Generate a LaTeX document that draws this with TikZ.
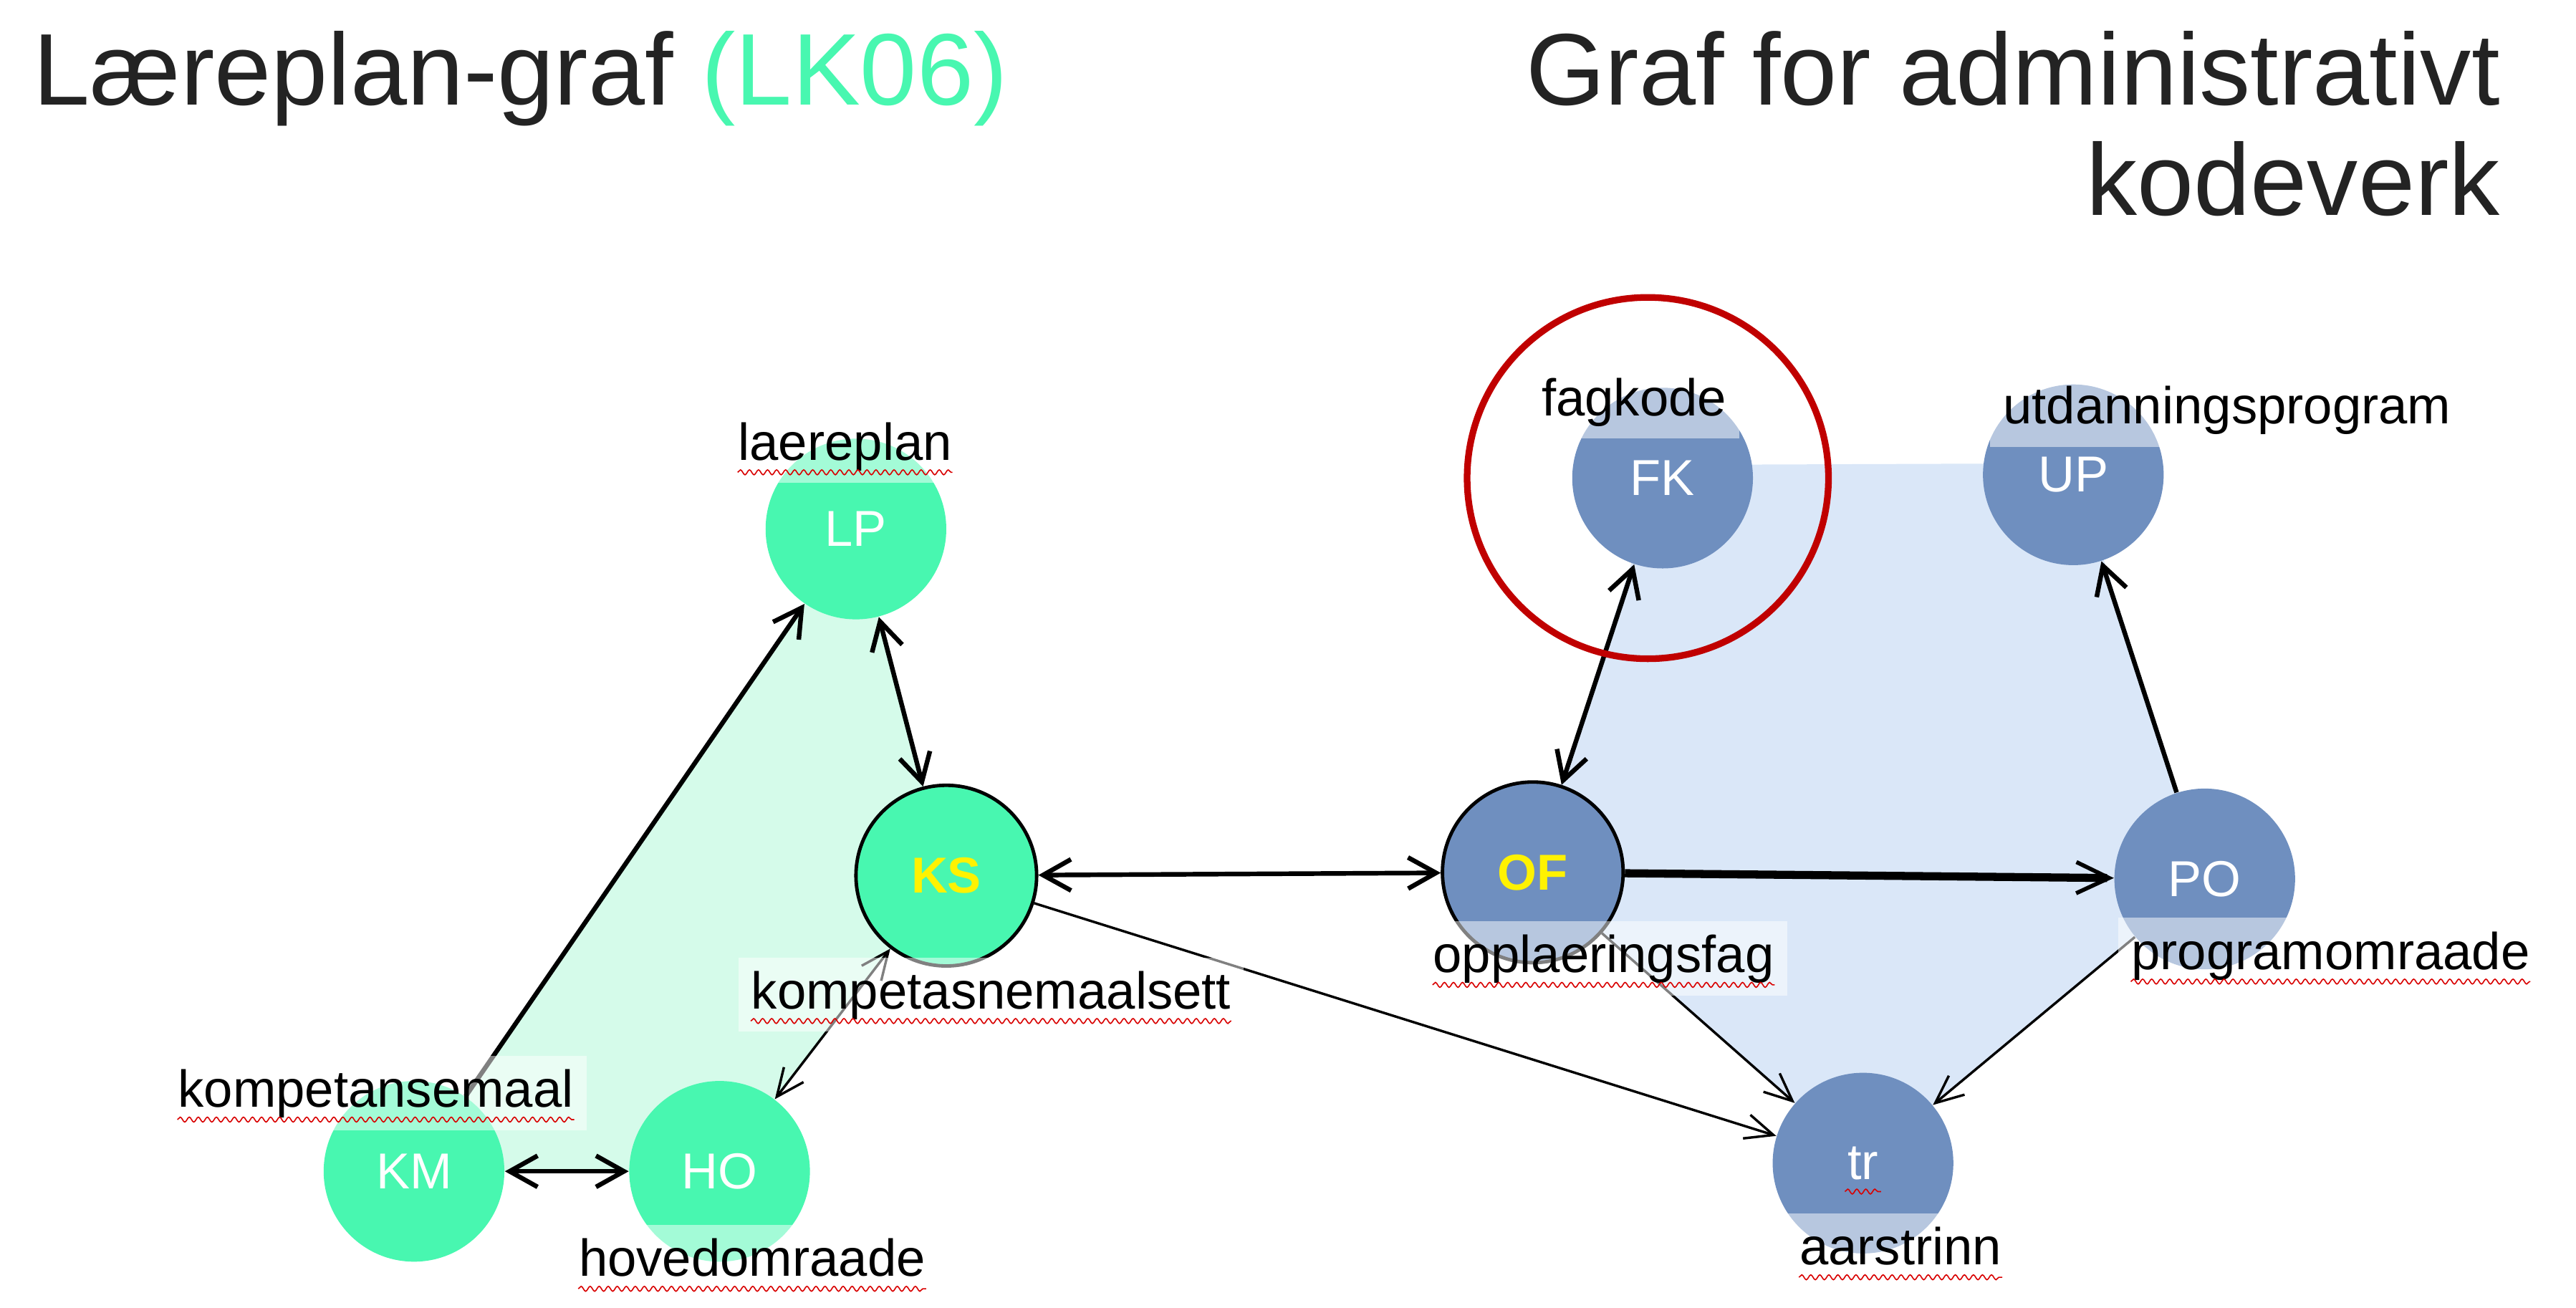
\documentclass[tikz,border=0pt]{standalone}
\usepackage{fontspec}
\setmainfont{Liberation Sans}
\usetikzlibrary{arrows.meta,backgrounds,decorations.pathmorphing}

\definecolor{lkgreen}{HTML}{48F7B0}
\definecolor{lkpale}{HTML}{D5FBEA}
\definecolor{kvblue}{HTML}{6F8FBF}
\definecolor{kvpale}{HTML}{DAE7F8}
\definecolor{ringred}{HTML}{C00000}
\definecolor{titlegray}{HTML}{232323}

\tikzset{
	lpnode/.style={circle, fill=lkgreen, minimum size=2.2cm, inner sep=0pt, text=white, font=\fontsize{17.5pt}{21pt}\selectfont},
	kvnode/.style={lpnode, fill=kvblue},
	hovednode/.style={draw=black, line width=1.2pt, text=yellow, font=\fontsize{17.5pt}{21pt}\selectfont\bfseries},
	lbl/.style={anchor=base west, fill=white, fill opacity=.5, text opacity=1, inner xsep=.16cm, inner ysep=.155cm, text height=.47cm, text depth=.125cm, font=\fontsize{18pt}{21pt}\selectfont},
	spell/.style={draw=red!85!black, line width=.4pt, decorate, decoration={snake, amplitude=.3mm, segment length=1.1mm}},
	tynn/.style={line width=.85pt, >={Straight Barb[length=3.4mm,width=3mm]}},
	tykk/.style={line width=1.6pt},
	titel/.style={inner sep=0pt, text=titlegray, font=\fontsize{35.3pt}{42pt}\selectfont},
}

\begin{document}
\begin{tikzpicture}[x=0.02cm, y=-0.02cm, >={Straight Barb[length=3.4mm,width=3.8mm]}]
	\useasboundingbox (0,0) rectangle (1568,796);

	% overskrifter
	\node[titel, anchor=base west] (titel1) at (20,64) {Læreplan-graf \textcolor{lkgreen}{(LK06)}};
	\node[titel, anchor=base east] (titel2) at (1522,64) {Graf for administrativt};
	\node[titel, anchor=base east] (titel3) at (1522,131) {kodeverk};

	% laereplan-graf
	\node[lpnode] (LP) at (521,322) {LP};
	\node[lpnode, hovednode] (KS) at (576,533) {KS};
	\node[lpnode] (KM) at (252,713) {KM};
	\node[lpnode] (HO) at (438,713) {HO};

	% kodeverk-graf
	\node[kvnode] (FK) at (1012,291) {FK};
	\node[kvnode] (UP) at (1262,289) {UP};
	\node[kvnode, hovednode] (OF) at (933,531) {OF};
	\node[kvnode] (PO) at (1342,535) {PO};
	\node[kvnode] (TR) at (1134,708) {tr};

	% flater bak nodene
	\begin{scope}[on background layer]
		\fill[lkpale] (LP.center) -- (KS.center) -- (HO.center) -- (KM.center) -- cycle;
		\fill[kvpale] ([yshift=.16cm]FK.center) -- ([yshift=.14cm]UP.center) -- (PO.center) -- (TR.center) -- (OF.center) -- cycle;
	\end{scope}

	% kanter
	\draw[->, tykk] (KM) -- (LP);
	\draw[<->, tykk] (LP) -- (KS);
	\draw[<->, tynn] (KS) -- (HO);
	\draw[<->, tykk] (KM) -- (HO);
	\draw[<->, tykk] (KS) -- (OF);
	\draw[->, tynn] (KS) -- (TR);
	\draw[<->, tykk] (FK) -- (OF);
	\draw[->, line width=2.8pt, >={Straight Barb[length=4mm,width=3.8mm,line width=1.4pt]}] (OF) -- (PO);
	\draw[->, tykk] (PO) -- (UP);
	\draw[->, tynn] (OF) -- (TR);
	\draw[->, tynn] (PO) -- (TR);

	% etiketter
	\node[lbl] (lp-lbl) at (441,280) {laereplan};
	\node[lbl] (ks-lbl) at (449,614) {kompetasnemaalsett};
	\node[lbl] (km-lbl) at (100,674) {kompetansemaal};
	\node[lbl] (ho-lbl) at (344,777) {hovedomraade};
	\node[lbl] (fk-lbl) at (930,253) {fagkode};
	\node[lbl] (up-lbl) at (1211,258) {utdanningsprogram};
	\node[lbl] (of-lbl) at (864,592) {opplaeringsfag};
	\node[lbl] (po-lbl) at (1289,590) {programomraade};
	\node[lbl] (tr-lbl) at (1087,770) {aarstrinn};

	% stavekontroll
	\foreach \l in {lp-lbl, ks-lbl, km-lbl, ho-lbl, of-lbl, po-lbl, tr-lbl}
		\draw[spell] ([xshift=.16cm, yshift=-.15cm]\l.base west) -- ([xshift=-.16cm, yshift=-.15cm]\l.base east);
	\draw[spell] ([xshift=-.22cm, yshift=-.15cm]TR.base) -- ([xshift=.22cm, yshift=-.15cm]TR.base);

	% markering av fagkode
	\draw[ringred, line width=2.3pt] ([xshift=-.18cm]FK.center) circle[radius=2.2cm];
\end{tikzpicture}
\end{document}
